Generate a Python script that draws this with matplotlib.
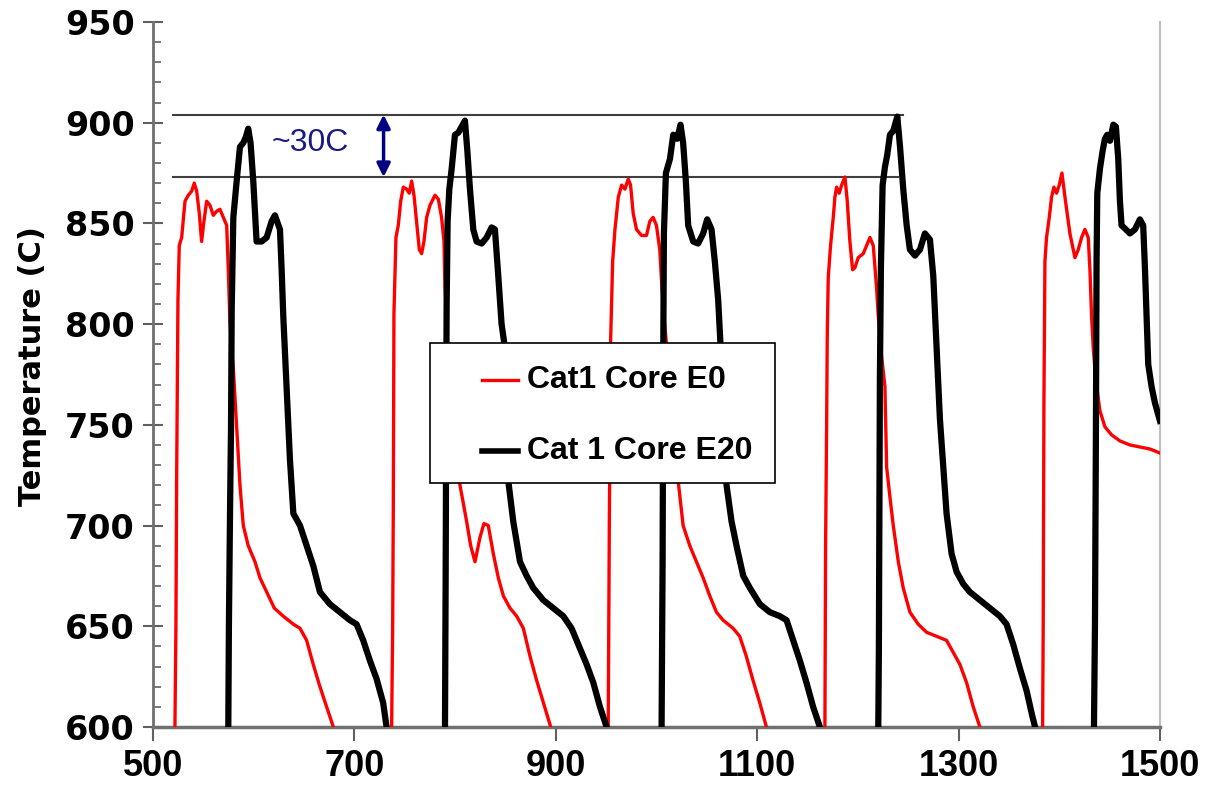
import numpy as np
import matplotlib
matplotlib.use("Agg")
import matplotlib.pyplot as plt
from matplotlib.ticker import MultipleLocator, FixedLocator
from matplotlib.patches import Rectangle
from matplotlib.lines import Line2D

nan = np.nan

# Cat1 Core E0 (red) -- cycles separated by NaN
red_x = [521.8, 522.8, 523.5, 524.8, 526.1, 528.5, 531.8, 535.1, 538.4, 541.0, 543.4, 546.0, 548.3, 550.6,
         553.3, 556.6, 559.9, 563.2, 566.5, 569.8, 573.2, 574.8, 576.5, 579.8, 583.1, 586.4, 589.7, 594.6,
         601.3, 606.3, 612.9, 620.5, 629.4, 639.4, 646.0, 652.6, 659.2, 665.8, 672.4, 679.1, nan,
         737.0, 738.0, 738.7, 739.3, 741.3, 743.6, 746.0, 748.6, 751.9, 754.5, 756.9, 759.2, 761.8, 764.5,
         766.8, 769.1, 771.8, 775.1, 780.1, 783.4, 786.6, 789.0, 790.0, 793.3, 799.9, 804.9, 811.5, 815.5,
         819.8, 824.7, 828.7, 833.0, 838.0, 843.0, 848.0, 854.6, 861.2, 867.8, 874.5, 881.1, 887.7, 895.0, nan,
         952.1, 953.2, 954.5, 956.5, 958.8, 962.1, 965.4, 968.7, 972.0, 974.3, 976.9, 980.2, 985.2, 990.1,
         993.4, 996.7, 1000.0, 1003.3, 1006.6, 1010.0, 1021.6, 1026.5, 1033.1, 1039.7, 1046.4, 1053.0,
         1059.6, 1066.2, 1076.1, 1082.7, 1089.3, 1096.0, 1102.6, 1109.2, nan,
         1167.3, 1168.0, 1169.0, 1169.6, 1170.6, 1172.9, 1175.6, 1177.2, 1178.9, 1181.5, 1183.9, 1187.2,
         1189.5, 1192.1, 1194.8, 1197.1, 1200.4, 1205.4, 1208.7, 1212.0, 1215.3, 1218.6, 1220.3, 1223.6,
         1226.9, 1228.6, 1231.9, 1235.2, 1240.2, 1245.1, 1251.7, 1260.0, 1268.3, 1278.2, 1288.1, 1294.8,
         1301.4, 1308.0, 1314.6, 1321.2, nan,
         1383.5, 1384.1, 1384.8, 1385.8, 1387.4, 1390.1, 1392.4, 1394.7, 1397.4, 1400.0, 1402.7, 1405.7,
         1410.6, 1415.6, 1418.9, 1422.2, 1425.5, 1428.8, 1430.5, 1432.1, 1433.8, 1436.4, 1440.4, 1445.4,
         1452.0, 1460.3, 1470.2, 1480.1, 1490.0, 1500.0]
red_y = [600, 651, 723, 812, 839, 843, 861, 864, 866, 870, 866, 855, 841, 851,
         861, 859, 854, 856, 857, 853, 849, 827, 800, 778, 749, 720, 700, 690,
         682, 674, 667, 659, 655, 651, 649, 643, 631, 620, 610, 600, nan,
         600, 647, 712, 805, 843, 849, 861, 868, 867, 865, 871, 864, 851, 837,
         835, 841, 853, 859, 864, 862, 853, 841, 818, 782, 743, 720, 702, 690,
         682, 694, 701, 700, 686, 674, 665, 659, 655, 649, 635, 623, 612, 600, nan,
         600, 700, 792, 831, 847, 863, 869, 867, 872, 869, 855, 847, 844, 844,
         851, 853, 849, 837, 808, 790, 722, 700, 690, 682, 674, 665,
         657, 653, 649, 645, 635, 623, 612, 600, nan,
         600, 692, 749, 793, 823, 839, 853, 863, 868, 865, 869, 873,
         861, 841, 827, 828, 833, 835, 839, 843, 839, 818, 804, 784,
         769, 729, 714, 700, 682, 669, 657, 651, 647, 645, 643, 637,
         631, 622, 610, 600, nan,
         600, 651, 761, 831, 843, 853, 863, 868, 865, 869, 875, 863,
         845, 833, 837, 843, 847, 843, 827, 804, 788, 772, 757, 749,
         745, 742, 740, 739, 738, 736]

# Cat 1 Core E20 (black)
blk_x = [574.8, 575.4, 576.5, 577.5, 578.2, 579.8, 583.1, 586.4, 589.7, 592.3, 594.6, 596.9, 599.6,
         602.9, 607.9, 612.9, 617.8, 621.1, 626.1, 627.7, 629.4, 632.7, 636.0, 639.4, 646.0, 652.6, 659.2,
         665.8, 675.7, 685.6, 695.6, 702.2, 708.8, 715.4, 722.0, 728.6, 732.0, nan,
         790.0, 790.7, 791.6, 792.6, 794.3, 796.6, 799.9, 803.2, 806.5, 809.8, 812.2, 814.8, 818.1, 821.4,
         826.4, 831.4, 836.3, 839.6, 842.9, 846.2, 849.6, 852.9, 857.8, 864.5, 871.1, 877.7, 887.6, 897.5,
         907.5, 915.7, 924.0, 930.7, 937.3, 943.9, 950.5, nan,
         1005.1, 1006.1, 1006.8, 1007.4, 1009.4, 1013.4, 1016.7, 1020.6, 1023.9, 1026.5, 1029.2, 1031.5,
         1036.5, 1041.4, 1046.4, 1050.4, 1054.7, 1058.0, 1061.3, 1063.6, 1069.6, 1074.6, 1079.5, 1086.2,
         1092.8, 1102.7, 1112.6, 1122.6, 1129.2, 1135.8, 1142.4, 1149.0, 1155.6, 1162.3, nan,
         1220.3, 1220.9, 1221.9, 1222.9, 1224.6, 1226.9, 1229.2, 1231.9, 1235.2, 1239.2, 1241.9, 1245.1,
         1248.5, 1251.7, 1256.7, 1261.7, 1266.6, 1271.6, 1274.9, 1278.2, 1281.5, 1284.9, 1288.1, 1293.1,
         1298.1, 1304.7, 1311.3, 1321.2, 1331.2, 1341.1, 1347.7, 1354.3, 1361.0, 1367.6, 1373.0, 1376.0, nan,
         1434.5, 1435.5, 1436.4, 1437.1, 1437.8, 1440.4, 1443.1, 1445.4, 1447.7, 1450.4, 1453.7, 1456.3,
         1458.6, 1460.3, 1461.9, 1466.2, 1470.2, 1475.2, 1480.1, 1483.4, 1485.1, 1486.7, 1488.4, 1491.7,
         1495.0, 1500.0]
blk_y = [600, 650, 706, 749, 808, 853, 871, 888, 890, 893, 897, 890, 871,
         841, 841, 843, 851, 854, 847, 828, 804, 769, 733, 706, 700, 690, 680,
         667, 661, 657, 653, 651, 643, 633, 624, 612, 600, nan,
         600, 680, 808, 851, 867, 877, 894, 895, 898, 901, 886, 867, 847, 841,
         840, 843, 848, 847, 824, 800, 788, 722, 702, 682, 675, 669, 663, 659,
         655, 649, 639, 631, 622, 610, 600, nan,
         600, 682, 788, 845, 875, 882, 894, 892, 899, 890, 871, 849,
         841, 840, 845, 852, 847, 831, 812, 790, 720, 702, 690, 675,
         669, 661, 657, 655, 653, 643, 633, 622, 610, 600, nan,
         600, 639, 773, 828, 869, 878, 884, 894, 896, 903, 888, 867,
         849, 837, 834, 837, 845, 842, 824, 788, 753, 729, 706, 686,
         677, 671, 667, 663, 659, 655, 651, 641, 629, 618, 606, 600, nan,
         600, 651, 743, 833, 865, 877, 886, 892, 894, 891, 899, 898,
         882, 861, 849, 847, 845, 847, 852, 849, 828, 804, 780, 769,
         761, 752]

series_labels = ["Cat1 Core E0", "Cat 1 Core E20"]
x_ticks = [500, 700, 900, 1100, 1300, 1500]
y_ticks = [600, 650, 700, 750, 800, 850, 900, 950]
ref_lines = [904, 873]
ref_x = [(520, 1245), (520, 1240)]
annot_text = "~30C"

LIB = ['Liberation Sans', 'DejaVu Sans']
DJV = ['DejaVu Sans']

fig = plt.figure(figsize=(12.17, 7.98), dpi=100)
ax = fig.add_axes([0.1257, 0.089, 0.8274, 0.8835])

ax.plot(red_x, red_y, color='#ff0000', lw=2.4, label=series_labels[0], zorder=3)
ax.plot(blk_x, blk_y, color='#000000', lw=4.5, label=series_labels[1], zorder=4)

for yv, (x0, x1) in zip(ref_lines, ref_x):
    ax.plot([x0, x1], [yv, yv], color='#404040', lw=1.5, zorder=2)

ax.annotate('', xy=(729, ref_lines[0]), xytext=(729, ref_lines[1]),
            arrowprops=dict(arrowstyle='<|-|>', color='#000080', lw=2.5,
                            mutation_scale=20, shrinkA=0, shrinkB=0), zorder=5)
ax.text(656, 890, annot_text, color='#1a1a80', fontsize=23, ha='center', va='center', family=LIB)

ax.set_xlim(500, 1500)
ax.set_ylim(600, 950)
ax.xaxis.set_major_locator(FixedLocator(x_ticks))
ax.yaxis.set_major_locator(FixedLocator(y_ticks))
ax.yaxis.set_minor_locator(MultipleLocator(10))
ax.set_xticklabels([str(v) for v in x_ticks])
ax.set_yticklabels([str(v) for v in y_ticks])

for lab in ax.get_xticklabels():
    lab.set_fontweight('bold')
    lab.set_fontsize(26)
    lab.set_family(LIB)
for lab in ax.get_yticklabels():
    lab.set_fontweight('bold')
    lab.set_fontsize(24)
    lab.set_family(DJV)

ax.tick_params(axis='x', which='major', direction='out', length=10, width=1.5, color='#606060', pad=6)
ax.tick_params(axis='y', which='major', direction='inout', length=14, width=1.5, color='#606060', pad=6)
ax.tick_params(axis='y', which='minor', direction='in', length=6, width=1.2, color='#606060')
ax.tick_params(axis='x', which='minor', bottom=False)

ax.set_ylabel('Temperature (C)', fontsize=22, fontweight='bold', family=DJV)
ax.yaxis.set_label_coords(-0.105, 0.512)

ax.spines['top'].set_visible(False)
ax.spines['left'].set_color('#707070')
ax.spines['left'].set_linewidth(2)
ax.spines['bottom'].set_color('#707070')
ax.spines['bottom'].set_linewidth(2.5)
ax.spines['right'].set_color('#c0c0c0')
ax.spines['right'].set_linewidth(1.5)

# legend drawn in axes coordinates
box = Rectangle((0.2751, 0.3461), 0.6177 - 0.2751, 0.5447 - 0.3461, transform=ax.transAxes,
                facecolor='white', edgecolor='black', lw=1.2, zorder=10)
ax.add_patch(box)
leg_rows = [(0.4922, '#ff0000', 2.4), (0.3915, '#000000', 4.0)]
for (yy, col, lw), lab in zip(leg_rows, series_labels):
    ax.add_line(Line2D([0.3267, 0.3625], [yy, yy], transform=ax.transAxes, color=col, lw=lw, zorder=11))
    ax.text(0.3714, yy, lab, transform=ax.transAxes, fontsize=23, fontweight='bold', family=LIB,
            va='center', ha='left', zorder=12)

fig.savefig('out.png', dpi=100)
